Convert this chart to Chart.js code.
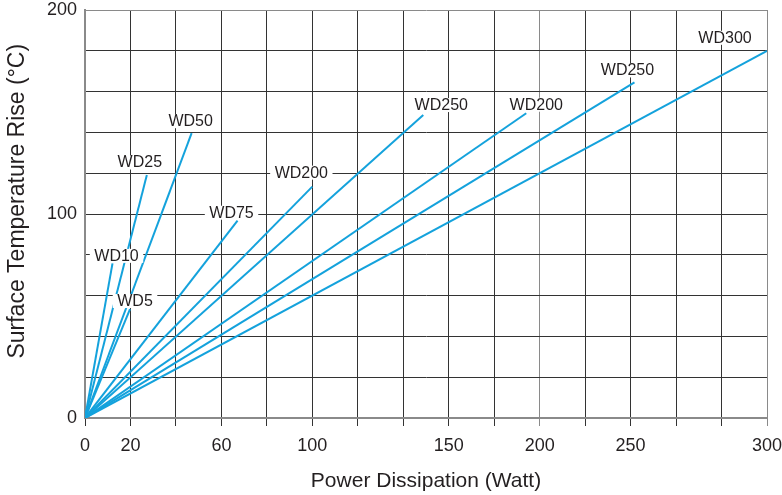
<!DOCTYPE html>
<html>
<head>
<meta charset="utf-8">
<script src="https://cdn.jsdelivr.net/npm/chart.js@4.4.1/dist/chart.umd.min.js"></script>
<style>
  html, body { margin: 0; padding: 0; background: #fff; }
  #wrap { width: 782px; height: 495px; }
</style>
</head>
<body>
<div id="wrap"><canvas id="riseChart" width="782" height="495"></canvas></div>
<script>
'use strict';

// ── Data ──
const seriesNames = ['WD5', 'WD10', 'WD25', 'WD50', 'WD75', 'WD200', 'WD250', 'WD200', 'WD250', 'WD300'];
const endWatts    = [19.8, 12.1, 27.2, 46.9, 67.1, 100, 148.8, 194.1, 241.7, 300];
const endRise     = [53.4, 75.8, 119.1, 139.6, 96.7, 113.4, 148.5, 149.4, 164.5, 180];

const xTickAt     = [0, 20, 60, 100, 160, 200, 240, 300];
const xTickLabels = ['0', '20', '60', '100', '150', '200', '250', '300'];
const yTickAt     = [0, 100, 200];
const yTickLabels = ['0', '100', '200'];

// label offset from each line's end, in pixels
const labelShift = [
  [5, -8], [4, -7.5], [-7, -12.5], [-1, -12], [-6, -8],
  [-11, -14], [18, -10], [10, -8.5], [-7, -12], [-42, -13],
];

const LINE_COLOR = '#14a2dc';
const TEXT_COLOR = '#231f20';
const FONT       = '"Liberation Sans", Arial, Helvetica, sans-serif';

const lineLabels = {
  id: 'lineLabels',
  afterDatasetsDraw(chart) {
    const { ctx, scales: { x, y } } = chart;
    ctx.save();
    ctx.font = `16px ${FONT}`;
    ctx.textAlign = 'center';
    ctx.textBaseline = 'middle';
    seriesNames.forEach((name, i) => {
      const px = x.getPixelForValue(endWatts[i]) + labelShift[i][0];
      const py = y.getPixelForValue(endRise[i]) + labelShift[i][1];
      const w  = ctx.measureText(name).width + 9;
      ctx.fillStyle = '#fff';
      ctx.fillRect(px - w / 2, py - 7, w, 14);
      ctx.fillStyle = TEXT_COLOR;
      ctx.fillText(name, px, py + 0.5);
    });
    ctx.restore();
  },
};

const gridColor = ctx => (ctx.tick && (ctx.tick.value === 300 || ctx.tick.value === 200) ? '#8a8a8a' : '#333');

new Chart(document.getElementById('riseChart'), {
  type: 'scatter',
  data: {
    datasets: seriesNames.map((name, i) => ({
      label: name,
      data: [{ x: 0, y: 0 }, { x: endWatts[i], y: endRise[i] }],
      showLine: true,
      borderColor: LINE_COLOR,
      borderWidth: 2,
      pointRadius: 0,
      pointHoverRadius: 0,
    })),
  },
  options: {
    responsive: false,
    animation: false,
    devicePixelRatio: 1,
    layout: { padding: { top: 10, right: 15, bottom: 0, left: 0 } },
    plugins: { legend: { display: false }, tooltip: { enabled: false } },
    scales: {
      x: {
        type: 'linear',
        min: 0,
        max: 300,
        afterFit: s => { s.height = 77; s.paddingLeft = 0; s.paddingRight = 0; },
        afterBuildTicks: s => { s.ticks = Array.from({ length: 16 }, (_, k) => ({ value: k * 20 })); },
        ticks: {
          autoSkip: false,
          maxRotation: 0,
          padding: 11,
          color: TEXT_COLOR,
          font: { family: FONT, size: 18, lineHeight: 1 },
          callback: v => { const k = xTickAt.indexOf(v); return k >= 0 ? xTickLabels[k] : ''; },
        },
        grid: { color: gridColor, lineWidth: 1, tickLength: 8 },
        border: { color: '#8a8a8a', width: 2 },
        title: {
          display: true,
          text: 'Power Dissipation (Watt)',
          color: TEXT_COLOR,
          font: { family: FONT, size: 21 },
          padding: { top: 0, bottom: 1.5 },
        },
      },
      y: {
        min: 0,
        max: 200,
        afterFit: s => { s.width = 85; s.paddingTop = 0; s.paddingBottom = 0; },
        afterBuildTicks: s => { s.ticks = Array.from({ length: 11 }, (_, k) => ({ value: k * 20 })); },
        ticks: {
          autoSkip: false,
          padding: 8,
          color: TEXT_COLOR,
          font: { family: FONT, size: 18, lineHeight: 1 },
          callback: v => { const k = yTickAt.indexOf(v); return k >= 0 ? yTickLabels[k] : ''; },
        },
        grid: { color: gridColor, lineWidth: 1, drawTicks: false },
        border: { color: '#8a8a8a', width: 2 },
        title: {
          display: true,
          text: '\u00a0\u00a0\u00a0\u00a0Surface Temperature Rise (°C)',
          color: TEXT_COLOR,
          font: { family: FONT, size: 23 },
          padding: { top: 4, bottom: 0 },
        },
      },
    },
  },
  plugins: [lineLabels],
});
</script>
</body>
</html>
